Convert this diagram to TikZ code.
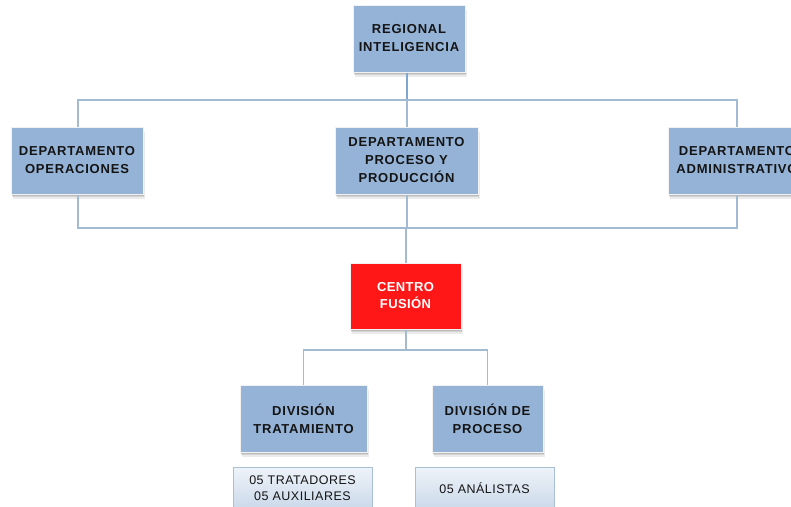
\documentclass[tikz,border=0pt]{standalone}
\usepackage{fontspec}
\setmainfont{Liberation Sans}
\usetikzlibrary{shadows,calc}
\definecolor{boxblue}{HTML}{95B3D7}
\definecolor{boxedge}{HTML}{F2F2F2}
\definecolor{linecol}{HTML}{A3BAD3}
\definecolor{linetop}{HTML}{7FA6D0}
\definecolor{redbox}{HTML}{FF1717}
\definecolor{txt}{HTML}{141414}
\definecolor{subtop}{HTML}{EEF3F9}
\definecolor{subbot}{HTML}{CBD9EA}
\definecolor{subedge}{HTML}{A9BFD6}
\tikzset{
  softshadow/.style={
    general shadow={shadow xshift=0.5pt, shadow yshift=-1.5pt, opacity=0.10, fill=black},
    general shadow={shadow xshift=1pt, shadow yshift=-3pt, opacity=0.10, fill=black},
    general shadow={shadow xshift=1.5pt, shadow yshift=-4.5pt, opacity=0.08, fill=black}},
  orgbox/.style={draw=boxedge, line width=1pt, fill=boxblue, text=txt,
    font=\fontsize{13}{18}\selectfont\bfseries\addfontfeature{LetterSpace=6},
    align=center, inner sep=1pt, softshadow},
  redstyle/.style={orgbox, fill=redbox, text=white,
    font=\fontsize{13}{17}\selectfont\bfseries\addfontfeature{LetterSpace=3}},
  subbox/.style={draw=subedge, line width=1pt, top color=subtop, bottom color=subbot,
    text=txt, align=center, inner sep=1pt,
    font=\fontsize{12.5}{15.5}\selectfont\addfontfeature{LetterSpace=4}},
  conn/.style={draw=linecol, line width=1.6pt},
  conntop/.style={draw=linetop, line width=1.6pt}
}
\begin{document}
\begin{tikzpicture}[x=1pt, y=-1pt]
\useasboundingbox (0,0) rectangle (791,506);
\clip (0,0) rectangle (791,506);
\fill[white] (0,0) rectangle (791,506);

% bus coordinates
\coordinate (b1) at (407,100);
\coordinate (b2) at (406,228);
\coordinate (b3) at (406,350);
\coordinate (xo) at (78,0);

% nodes
\node[orgbox, minimum width=112pt, minimum height=67pt] (reg) at (409,38.5) {REGIONAL\\INTELIGENCIA};
\node[orgbox, minimum width=132pt, minimum height=67pt] (op) at (77,160.5) {DEPARTAMENTO\\OPERACIONES};
\node[orgbox, minimum width=143pt, minimum height=67pt] (pp) at (406.5,160.5) {DEPARTAMENTO\\PROCESO Y\\PRODUCCIÓN};
\node[orgbox, minimum width=138pt, minimum height=67pt] (adm) at (737,160.5) {DEPARTAMENTO\\ADMINISTRATIVO};
\node[redstyle, minimum width=111pt, minimum height=66pt] (cf) at (405.5,296) {CENTRO\\FUSIÓN};
\node[orgbox, minimum width=127pt, minimum height=67pt] (dt) at (303.5,418.5) {DIVISIÓN\\TRATAMIENTO};
\node[orgbox, minimum width=111pt, minimum height=67pt] (dp) at (487.5,418.5) {DIVISIÓN DE\\PROCESO};
\node[subbox, minimum width=139pt, minimum height=41pt, anchor=north] (st) at (302.5,467) {05 TRATADORES\\05 AUXILIARES};
\node[subbox, minimum width=139pt, minimum height=41pt, anchor=north] (sp) at (484.5,467) {05 ANÁLISTAS};

% connectors
\draw[conntop] (reg.south -| b1) -- (b1);
\draw[conn] (op.north -| xo) |- (b1) -| (adm.north);
\draw[conn] (b1) -- (pp.north -| b1);
\draw[conn] (op.south -| xo) |- (b2) -| (adm.south);
\draw[conn] (pp.south -| b1) -- (b1 |- b2);
\draw[conn] (b2) -- (cf.north -| b2);
\draw[conn] (cf.south -| b3) -- (b3);
\draw[conn] (dt.north) |- (b3) -| (dp.north);
\end{tikzpicture}
\end{document}
